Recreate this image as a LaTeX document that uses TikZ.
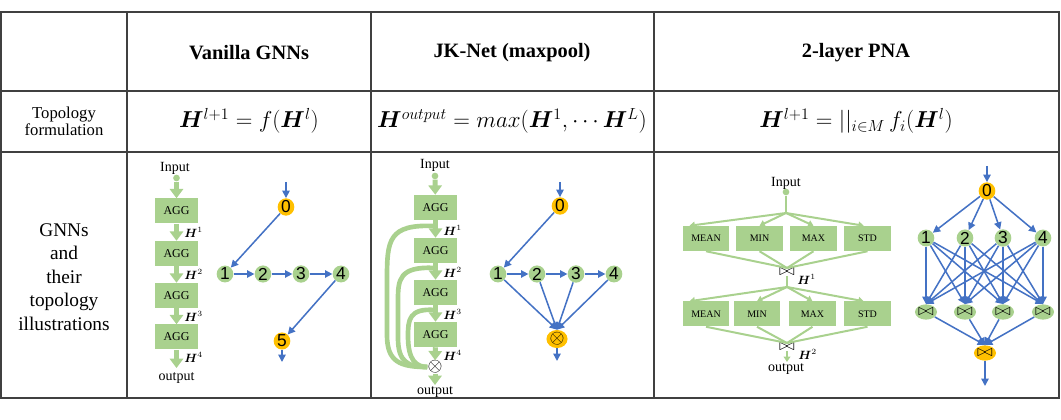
\documentclass[tikz,border=0pt]{standalone}
\usepackage{fontspec}
\setmainfont{Liberation Serif}
\newfontfamily\digitfont{Liberation Sans}
\usepackage{amsmath,bm,graphicx}
\usetikzlibrary{arrows.meta,shapes.geometric,calc}
\definecolor{pgreen}{HTML}{A9D18E}
\definecolor{pblue}{HTML}{4472C4}
\definecolor{porange}{HTML}{FFC000}
\newcommand{\mybt}{\scalebox{1.2}[1.0]{$\bowtie$}}
\begin{document}
\begin{tikzpicture}[x=0.75pt,y=-0.75pt,
  grid/.style={line width=1.1pt, draw=black!75},
  hdr/.style={font=\fontsize{15.3}{18}\selectfont\bfseries},
  fml/.style={font=\fontsize{16.5}{18}\selectfont},
  agg/.style={rectangle, fill=pgreen, minimum width=32.25pt, minimum height=18.75pt, inner sep=0pt, font=\fontsize{9}{10}\selectfont},
  pbox/.style={rectangle, fill=pgreen, minimum width=35pt, minimum height=18.75pt, inner sep=0pt, font=\fontsize{7.5}{9}\selectfont},
  garrow/.style={draw=pgreen, line width=3.75pt, -{Triangle[width=10pt,length=7pt]}},
  gskip/.style={draw=pgreen, line width=3.5pt},
  gthin/.style={draw=pgreen, line width=1.5pt},
  gthinarrow/.style={gthin, -{Triangle[width=5pt,length=4pt]}},
  barrow/.style={draw=pblue, line width=1.15pt, -{Triangle[width=5.5pt,length=5.5pt]}},
  gnode/.style={ellipse, fill=pgreen, minimum width=12.5pt, minimum height=11.5pt, inner sep=0pt, font=\digitfont\fontsize{13}{13}\selectfont},
  onode/.style={gnode, fill=porange},
  bsym/.style={font=\fontsize{13}{13}\selectfont},
  osym/.style={font=\fontsize{15}{15}\selectfont},
  lbl/.style={font=\fontsize{10.5}{12}\selectfont, inner sep=0pt},
  hl/.style={font=\fontsize{9}{10}\selectfont, anchor=west, inner sep=0pt},
  dot/.style={circle, fill=pgreen, minimum size=5pt, inner sep=0pt},
]
\useasboundingbox (0,0) rectangle (1061,420);
% ---------- table ----------
\draw[grid] (1,12) rectangle (1059,398);
\draw[grid] (1,91) -- (1059,91);
\draw[grid] (1,152) -- (1059,152);
\draw[grid] (127,12) -- (127,398);
\draw[grid] (371,12) -- (371,398);
\draw[grid] (654,12) -- (654,398);
% headers
\node[hdr] (hv) at (249,53) {Vanilla GNNs};
\node[hdr] (hj) at (512,53) {JK-Net (maxpool)};
\node[hdr] (hp) at (856,53) {2-layer PNA};
% row 2
\node[align=center, font=\fontsize{12.5}{13}\selectfont] (rt) at (64,121) {Topology\\formulation};
\node[fml] (fv) at (249,121) {$\bm{H}^{l+1} = f(\bm{H}^{l})$};
\node[fml] (fj) at (512,121) {$\bm{H}^{output} = max(\bm{H}^{1}, \cdots \bm{H}^{L})$};
\node[fml] (fp) at (856,121) {$\bm{H}^{l+1} = ||_{i\in M}\, f_i(\bm{H}^{l})$};
% row 3 label
\node[align=center, font=\fontsize{14.5}{17.6}\selectfont] (rg) at (64,277) {GNNs\\and\\their\\topology\\illustrations};
% ---------- Vanilla ----------
\node[lbl] (vin) at (175,168) {Input};
\node[dot] (vd) at (176.5,178) {};
\node[agg] (va1) at (176.5,211) {AGG};
\node[agg] (va2) at (176.5,253.5) {AGG};
\node[agg] (va3) at (176.5,295.5) {AGG};
\node[agg] (va4) at (176.5,337) {AGG};
\coordinate (vo) at (176.5,368);
\node[lbl] (vout) at (176.5,378) {output};
\draw[garrow] (vd) -- (va1);
\draw[garrow] (va1) -- (va2);
\draw[garrow] (va2) -- (va3);
\draw[garrow] (va3) -- (va4);
\draw[garrow] (va4) -- (vo);
\node[hl] (vh1) at (184,232) {$\bm{H}^{1}$};
\node[hl] (vh2) at (184,274) {$\bm{H}^{2}$};
\node[hl] (vh3) at (184,316) {$\bm{H}^{3}$};
\node[hl] (vh4) at (184,357) {$\bm{H}^{4}$};
% graph
\coordinate (v0in) at (286,182);
\node[onode] (v0) at (286,207) {0};
\node[gnode] (v1) at (225,274) {1};
\node[gnode] (v2) at (263,274) {2};
\node[gnode] (v3) at (301,274) {3};
\node[gnode] (v4) at (341,274) {4};
\node[onode] (v5) at (282,341) {5};
\coordinate (v5out) at (282,362);
\draw[barrow] (v0in) -- (v0);
\draw[barrow] (v0) -- (v1);
\draw[barrow] (v1) -- (v2);
\draw[barrow] (v2) -- (v3);
\draw[barrow] (v3) -- (v4);
\draw[barrow] (v4) -- (v5);
\draw[barrow] (v5) -- (v5out);
% ---------- JK-Net ----------
\node[lbl] (jin) at (435,165) {Input};
\node[dot] (jd) at (435,176) {};
\node[agg] (ja1) at (435.5,207.5) {AGG};
\node[agg] (ja2) at (435.5,250.5) {AGG};
\node[agg] (ja3) at (435.5,292.5) {AGG};
\node[agg] (ja4) at (435.5,334.5) {AGG};
\node[inner sep=0pt, osym] (jx) at (435,367) {$\otimes$};
\coordinate (jo) at (435,385);
\node[lbl] (jout) at (435,392) {output};
\coordinate (js1) at (435,226);
\coordinate (js2) at (435,268);
\coordinate (js3) at (435,310);
\draw[gskip] (js1) .. controls (388,224) and (387,240) .. (387,280) -- (387,335) .. controls (387,362) and (400,367) .. (jx.west);
\draw[gskip] (js2) .. controls (399,266) and (398,280) .. (398,300) -- (398,338) .. controls (398,362) and (408,367) .. (jx.west);
\draw[gskip] (js3) .. controls (409,308) and (408,320) .. (408,336) .. controls (408,360) and (416,367) .. (jx.west);
\draw[garrow] (jd) -- (ja1);
\draw[garrow] (ja1) -- (ja2);
\draw[garrow] (ja2) -- (ja3);
\draw[garrow] (ja3) -- (ja4);
\draw[garrow] (ja4) -- (jx);
\draw[garrow] (jx) -- (jo);
\node[hl] (jh1) at (443,230) {$\bm{H}^{1}$};
\node[hl] (jh2) at (443,272) {$\bm{H}^{2}$};
\node[hl] (jh3) at (443,314) {$\bm{H}^{3}$};
\node[hl] (jh4) at (443,355) {$\bm{H}^{4}$};
% graph
\coordinate (j0in) at (560,182);
\node[onode] (j0) at (560,206) {0};
\node[gnode] (j1) at (498,274) {1};
\node[gnode] (j2) at (537,274) {2};
\node[gnode] (j3) at (576,274) {3};
\node[gnode] (j4) at (614,274) {4};
\node[onode, osym] (jx2) at (557,339) {$\otimes$};
\coordinate (jx2out) at (557,361);
\draw[barrow] (j0in) -- (j0);
\draw[barrow] (j0) -- (j1);
\draw[barrow] (j1) -- (j2);
\draw[barrow] (j2) -- (j3);
\draw[barrow] (j3) -- (j4);
\foreach \k in {1,2,3,4} \draw[barrow] (j\k) -- (jx2.north);
\draw[barrow] (jx2) -- (jx2out);
% ---------- PNA left ----------
\node[lbl] (pin) at (786,183) {Input};
\node[dot] (pd) at (786,192) {};
\coordinate (pa1) at (786,213);
\draw[gthin] (pd) -- (pa1);
\node[pbox] (p1m) at (706,238.5) {MEAN};
\node[pbox] (p1i) at (759.5,238.5) {MIN};
\node[pbox] (p1x) at (813.5,238.5) {MAX};
\node[pbox] (p1s) at (867.5,238.5) {STD};
\draw[gthinarrow] (pa1) -- ($(p1m.north west)!0.15!(p1m.north east)$);
\draw[gthinarrow] (pa1) -- (p1i.north);
\draw[gthinarrow] (pa1) -- (p1x.north);
\draw[gthinarrow] (pa1) -- ($(p1s.north west)!0.42!(p1s.north east)$);
\node[inner sep=0pt, bsym] (pb1) at (787,272) {\mybt};
\foreach \b in {p1m,p1i,p1x,p1s} \draw[gthin] (\b.south) -- (pb1.north);
\node[hl] (ph1) at (797,279) {$\bm{H}^{1}$};
\coordinate (pa2) at (787,287);
\draw[gthin] (pb1) -- (pa2);
\node[pbox] (p2m) at (706,314) {MEAN};
\node[pbox] (p2i) at (757,314) {MIN};
\node[pbox] (p2x) at (812.5,314) {MAX};
\node[pbox] (p2s) at (867.5,314) {STD};
\draw[gthinarrow] (pa2) -- ($(p2m.north west)!0.15!(p2m.north east)$);
\draw[gthinarrow] (pa2) -- (p2i.north);
\draw[gthinarrow] (pa2) -- (p2x.north);
\draw[gthinarrow] (pa2) -- ($(p2s.north west)!0.42!(p2s.north east)$);
\node[inner sep=0pt, bsym] (pb2) at (787,347) {\mybt};
\foreach \b in {p2m,p2i,p2x,p2s} \draw[gthin] (\b.south) -- (pb2.north);
\node[hl] (ph2) at (798,354) {$\bm{H}^{2}$};
\coordinate (po) at (787,362);
\draw[gthinarrow] (pb2) -- (po);
\node[lbl] (pout) at (786,369) {output};
% ---------- PNA right ----------
\coordinate (q0in) at (987,166);
\node[onode] (q0) at (987,191) {0};
\node[gnode] (q1) at (926,238) {1};
\node[gnode] (q2) at (965,238) {2};
\node[gnode] (q3) at (1003,238) {3};
\node[gnode] (q4) at (1043,238) {4};
\node[gnode, bsym, minimum width=14pt] (qa1) at (926,312) {\mybt};
\node[gnode, bsym, minimum width=14pt] (qa2) at (965,312) {\mybt};
\node[gnode, bsym, minimum width=14pt] (qa3) at (1003,312) {\mybt};
\node[gnode, bsym, minimum width=14pt] (qa4) at (1043,312) {\mybt};
\node[onode, bsym, minimum width=14pt] (qf) at (985,353) {\mybt};
\coordinate (qout) at (985,386);
\draw[barrow] (q0in) -- (q0);
\foreach \k in {1,2,3,4} \draw[barrow] (q0) -- (q\k);
\foreach \k in {1,2,3,4} \foreach \m in {1,2,3,4} \draw[barrow] (q\k) -- (qa\m.north);
\foreach \m in {1,2,3,4} \draw[barrow] (qa\m) -- (qf.north);
\draw[barrow] (qf) -- (qout);
\end{tikzpicture}
\end{document}
